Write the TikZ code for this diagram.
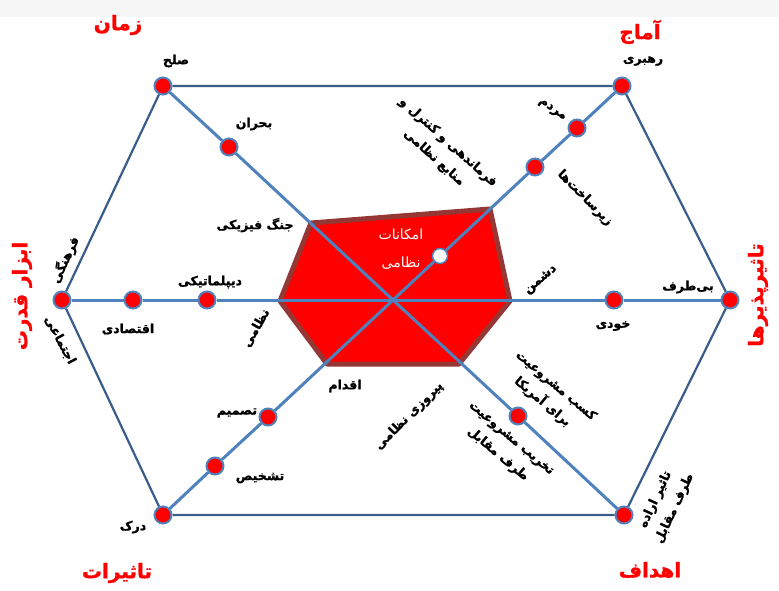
\documentclass[tikz,border=0pt]{standalone}
\usepackage{fontspec}
\newfontfamily\fa[Script=Arabic, BoldFeatures={FakeBold=1.3}]{DejaVu Sans}
\TeXXeTstate=1
\newcommand\rtl[1]{\beginR #1\endR}
\definecolor{spokeblue}{RGB}{79,129,189}
\definecolor{edgeblue}{RGB}{56,93,138}
\definecolor{polyedge}{RGB}{149,55,53}
\tikzset{
  dot/.style={circle, fill=red, draw=spokeblue, line width=2pt, minimum size=17pt, inner sep=0pt},
  wdot/.style={circle, fill=white, draw=spokeblue, line width=1.5pt, minimum size=15pt, inner sep=0pt},
  hexedge/.style={draw=edgeblue, line width=2.2pt},
  spokeline/.style={draw=spokeblue, line width=3pt},
  lbl/.style={font=\fa\bfseries\fontsize{12.5}{14}\selectfont, text=black, inner sep=0pt, align=center},
  lbltwo/.style={font=\fa\bfseries\fontsize{12.5}{21}\selectfont, text=black, inner sep=0pt, align=center},
  cat/.style={font=\fa\bfseries\fontsize{20}{22}\selectfont, text=red, inner sep=0pt},
  inlbl/.style={font=\fa\fontsize{14}{28}\selectfont, text=white, inner sep=0pt, align=center},
}
\begin{document}
\begin{tikzpicture}[x=1pt,y=-1pt]
\useasboundingbox (0,0) rectangle (779,591);
\fill[black!3] (0,0) rectangle (779,17);

% red polygon
\filldraw[fill=red, draw=polyedge, line width=5pt, line join=round]
  (311,223) -- (490,209) -- (510,301) -- (459,364) -- (327,364) -- (280,301) -- cycle;

% centre
\coordinate (c) at (393,300);

% vertices
\node[dot] (tl) at (163,86) {};
\node[dot] (tr) at (622,86) {};
\node[dot] (r)  at (730,300) {};
\node[dot] (br) at (624,515) {};
\node[dot] (bl) at (163,515) {};
\node[dot] (l)  at (62,300) {};
% inner dots
\node[dot] (bh) at (229,147) {};
\node[dot] (m1) at (577,128) {};
\node[dot] (m2) at (535,167) {};
\node[wdot] (wc) at (440,256) {};
\node[dot] (k1) at (614,300) {};
\node[dot] (e1) at (133,300) {};
\node[dot] (d1) at (207,300) {};
\node[dot] (t1) at (268,417) {};
\node[dot] (t2) at (215,466) {};
\node[dot] (g1) at (518,416) {};

% hexagon
\draw[hexedge] (tl) -- (tr) -- (r) -- (br) -- (bl) -- (l) -- (tl);
% spokes
\draw[spokeline] (tl) -- (bh) -- (c) -- (g1) -- (br);
\draw[spokeline] (tr) -- (m1) -- (m2) -- (wc) -- (c) -- (t1) -- (t2) -- (bl);
\draw[spokeline] (l) -- (e1) -- (d1) -- (c) -- (k1) -- (r);

% category labels
\node[cat] (c1) at (118,25) {\rtl{زمان}};
\node[cat] (c2) at (640,32) {\rtl{آماج}};
\node[cat, rotate=90] (c3) at (758,295) {\rtl{تاثیرپذیرها}};
\node[cat, rotate=90] (c4) at (22,296) {\rtl{ابزار قدرت}};
\node[cat] (c5) at (117,573) {\rtl{تاثیرات}};
\node[cat] (c6) at (650,570) {\rtl{اهداف}};

% inner labels
\node[inlbl] (ml) at (401,249) {\rtl{امکانات}\\\rtl{نظامی}};

% black labels
\node[lbl] (a1) at (176,61) {\rtl{صلح}};
\node[lbl] (a2) at (254,124) {\rtl{بحران}};
\node[lbl] (a3) at (255,225) {\rtl{جنگ فیزیکی}};
\node[lbl] (a4) at (643,61) {\rtl{رهبری}};
\node[lbl, rotate=-35] (a5) at (552,110) {\rtl{مردم}};
\node[lbl, rotate=-45] (a6) at (585,198) {\rtl{زیرساخت‌ها}};
\node[lbltwo, rotate=-42] (a7) at (441,150) {\rtl{فرماندهی و کنترل و}\\\rtl{منابع نظامی}};
\node[lbl, rotate=40] (a8) at (541,280) {\rtl{دشمن}};
\node[lbl] (a9) at (688,287) {\rtl{بی‌طرف}};
\node[lbl] (a10) at (613,326) {\rtl{خودی}};
\node[lbl] (a11) at (128,329) {\rtl{اقتصادی}};
\node[lbl] (a12) at (210,282) {\rtl{دیپلماتیکی}};
\node[lbl, rotate=60] (a13) at (256,328) {\rtl{نظامی}};
\node[lbl] (a14) at (345,386) {\rtl{اقدام}};
\node[lbl] (a15) at (237,413) {\rtl{تصمیم}};
\node[lbl] (a16) at (260,478) {\rtl{تشخیص}};
\node[lbl] (a17) at (133,527) {\rtl{درک}};
\node[lbl, rotate=45] (a18) at (409,416) {\rtl{پیروزی نظامی}};
\node[lbltwo, rotate=-40] (a19) at (549,394) {\rtl{کسب مشروعیت}\\\rtl{برای آمریکا}};
\node[lbltwo, rotate=-40] (a20) at (504,447) {\rtl{تخریب مشروعیت}\\\rtl{طرف مقابل}};
\node[lbltwo, rotate=65] (a21) at (665,504) {\rtl{تاثیر اراده}\\\rtl{طرف مقابل}};
\node[lbl, rotate=65] (a22) at (65,260) {\rtl{فرهنگی}};
\node[lbl, rotate=-62] (a23) at (60,340) {\rtl{اجتماعی}};
\end{tikzpicture}
\end{document}
